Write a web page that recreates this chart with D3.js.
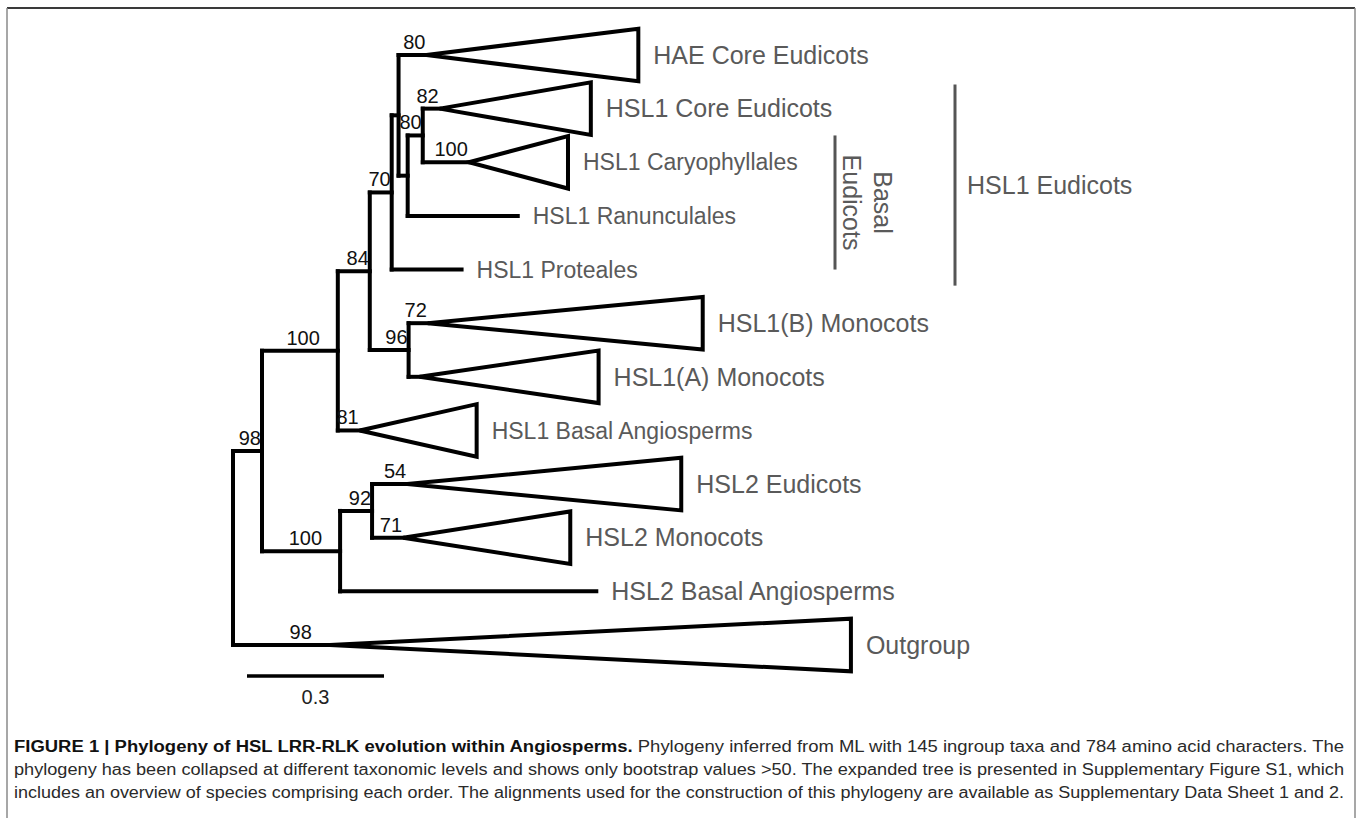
<!DOCTYPE html>
<html><head><meta charset="utf-8">
<script src="https://cdn.jsdelivr.net/npm/d3@7"></script>
<style>body{margin:0;background:#fff}svg{display:block}</style>
</head><body><svg id="c" width="1358" height="818"></svg>
<script>
// ---- DATA ----
const nodeIds      = ["root","n98","n100a","n84","n70","nE","HAE","nF","n80","HSL1core","Cary","Ranun","Prot","n96","HSL1B","HSL1A","BasalAng","n100b","n92","HSL2Eud","HSL2Mono","HSL2Basal","Outgroup"];
const parentIds    = ["","root","n98","n100a","n84","n70","nE","nE","nF","n80","n80","nF","n70","n84","n96","n96","n100a","n98","n100b","n92","n92","n100b","root"];
const branchLengths= [0,0.0635,0.166,0.070,0.048,0.015,0.061,0.020,0.033,0.037,0.101,0.241,0.153,0.085,0.042,0.024,0.048,0.171,0.070,0.077,0.068,0.561,0.212];
const cladeDepths  = [null,null,null,null,null,null,0.464,null,null,0.331,0.217,null,null,null,0.602,0.392,0.256,null,null,0.600,0.366,null,1.141];
const bootstrap    = ["","98","100","84","70","","80","","80","82","100","","","96","72","","81","100","92","54","71","","98"];
const tipLabels    = ["","","","","","","HAE Core Eudicots","","","HSL1 Core Eudicots","HSL1 Caryophyllales","HSL1 Ranunculales","HSL1 Proteales","","HSL1(B) Monocots","HSL1(A) Monocots","HSL1 Basal Angiosperms","","","HSL2 Eudicots","HSL2 Monocots","HSL2 Basal Angiosperms","Outgroup"];
const groupLabels  = [["Basal","Eudicots"],["HSL1 Eudicots"]];
const groupRows    = [[1.5,4.0],[0.55,4.3]];
const scaleBarValue = 0.3;
const captionBold = "FIGURE 1 | Phylogeny of HSL LRR-RLK evolution within Angiosperms.";
const captionLines = [
  " Phylogeny inferred from ML with 145 ingroup taxa and 784 amino acid characters. The",
  "phylogeny has been collapsed at different taxonomic levels and shows only bootstrap values >50. The expanded tree is presented in Supplementary Figure S1, which",
  "includes an overview of species comprising each order. The alignments used for the construction of this phylogeny are available as Supplementary Data Sheet 1 and 2."
];

// ---- LAYOUT ----
const svg = d3.select("#c");
const FONT = "'Liberation Sans', Arial, Helvetica, sans-serif";
const smallLabels = new Set(["Cary","Ranun","Prot","BasalAng"]);

const rows = nodeIds.map((id,i)=>({id, parent: parentIds[i]||null, bl: branchLengths[i], depth: cladeDepths[i], boot: bootstrap[i], label: tipLabels[i]}));
const root = d3.stratify().id(d=>d.id).parentId(d=>d.parent)(rows);
root.eachBefore(n => n.dist = n.parent ? n.parent.dist + n.data.bl : 0);
const leaves = root.leaves();
leaves.forEach((l,i)=> l.row = i);
root.eachAfter(n => { if (n.children) n.row = (n.children[0].row + n.children[n.children.length-1].row)/2; });

const x = d3.scaleLinear().domain([0,1]).range([233, 233+456.7]);
const y = d3.scaleLinear().domain([0, leaves.length-1]).range([55, 645]);
const step = y(1)-y(0);

// frame
svg.append("line").attr("x1",7).attr("x2",1355).attr("y1",8).attr("y2",8).attr("stroke","#3a3a3a").attr("stroke-width",2);
svg.append("line").attr("x1",7).attr("x2",7).attr("y1",8).attr("y2",818).attr("stroke","#8a8a8a").attr("stroke-width",1.5);
svg.append("line").attr("x1",1355).attr("x2",1355).attr("y1",8).attr("y2",818).attr("stroke","#8a8a8a").attr("stroke-width",1.5);

const g = svg.append("g").attr("stroke","#000").attr("stroke-width",4).attr("fill","none").attr("stroke-linecap","square");
// horizontal stems
root.descendants().filter(n=>n.parent).forEach(n=>{
  g.append("line").attr("x1",x(n.parent.dist)).attr("x2",x(n.dist)).attr("y1",y(n.row)).attr("y2",y(n.row));
});
// vertical connectors
root.descendants().filter(n=>n.children).forEach(n=>{
  const c = n.children;
  g.append("line").attr("x1",x(n.dist)).attr("x2",x(n.dist)).attr("y1",y(c[0].row)).attr("y2",y(c[c.length-1].row));
});
// collapsed clades
root.leaves().filter(n=>n.data.depth!=null).forEach(n=>{
  const ax = x(n.dist), tx = x(n.dist+n.data.depth), cy = y(n.row), h = step*0.49;
  g.append("path").attr("d",`M${ax},${cy}L${tx},${cy-h}L${tx},${cy+h}Z`).attr("stroke-linejoin","miter").attr("fill","#fff");
});

// tip labels
root.leaves().forEach(n=>{
  const tip = n.dist + (n.data.depth!=null ? n.data.depth : 0);
  svg.append("text").attr("x",x(tip)+15).attr("y",y(n.row)).attr("dy","0.35em")
    .attr("font-family",FONT).attr("font-size", smallLabels.has(n.id)?23:25).attr("fill","#5a5a5a")
    .text(n.data.label);
});

// bootstrap labels
root.descendants().filter(n=>n.parent && n.data.boot).forEach(n=>{
  const x0 = x(n.parent.dist), x1 = x(n.dist);
  const shift = (x1-x0) > 60 ? 17 : 0;
  svg.append("text").attr("x",x1-1-shift).attr("y",y(n.row)-6).attr("text-anchor","end")
    .attr("font-family",FONT).attr("font-size",20).attr("fill","#111").text(n.data.boot);
});

// group bars
const barX = [835, 955];
groupLabels.forEach((lab,i)=>{
  const [r0,r1] = groupRows[i];
  svg.append("line").attr("x1",barX[i]).attr("x2",barX[i]).attr("y1",y(r0)).attr("y2",y(r1)).attr("stroke","#555").attr("stroke-width",3);
  if (lab.length===1){
    svg.append("text").attr("x",barX[i]+12).attr("y",(y(r0)+y(r1))/2).attr("dy","0.35em")
      .attr("font-family",FONT).attr("font-size",25).attr("fill","#5a5a5a").text(lab[0]);
  } else {
    const cy = (y(r0)+y(r1))/2 + 0;
    lab.forEach((t,j)=>{
      const cx = barX[i] + 48 - j*31;
      svg.append("text").attr("transform",`translate(${cx},${cy}) rotate(90)`).attr("text-anchor","middle").attr("dy","0.35em")
        .attr("font-family",FONT).attr("font-size",25).attr("fill","#5a5a5a").text(t);
    });
  }
});

// scale bar
const sbx = 247, sby = 676;
svg.append("line").attr("x1",sbx).attr("x2",sbx + x(scaleBarValue)-x(0)).attr("y1",sby).attr("y2",sby).attr("stroke","#000").attr("stroke-width",3.5);
svg.append("text").attr("x",sbx + (x(scaleBarValue)-x(0))/2).attr("y",sby+21).attr("dy","0.35em").attr("text-anchor","middle")
  .attr("font-family",FONT).attr("font-size",20).attr("fill","#222").text(String(scaleBarValue));

// caption
const capX = 14, capW = 1330, capY0 = 752, capDY = 23;
captionLines.forEach((line,i)=>{
  const t = svg.append("text").attr("x",capX).attr("y",capY0+i*capDY).attr("font-family",FONT).attr("font-size",16).attr("fill","#2a2a2a")
    .attr("textLength",capW).attr("lengthAdjust","spacingAndGlyphs");
  if (i===0) t.append("tspan").attr("font-weight","bold").attr("fill","#111").text(captionBold);
  t.append("tspan").text(line);
});
</script></body></html>
